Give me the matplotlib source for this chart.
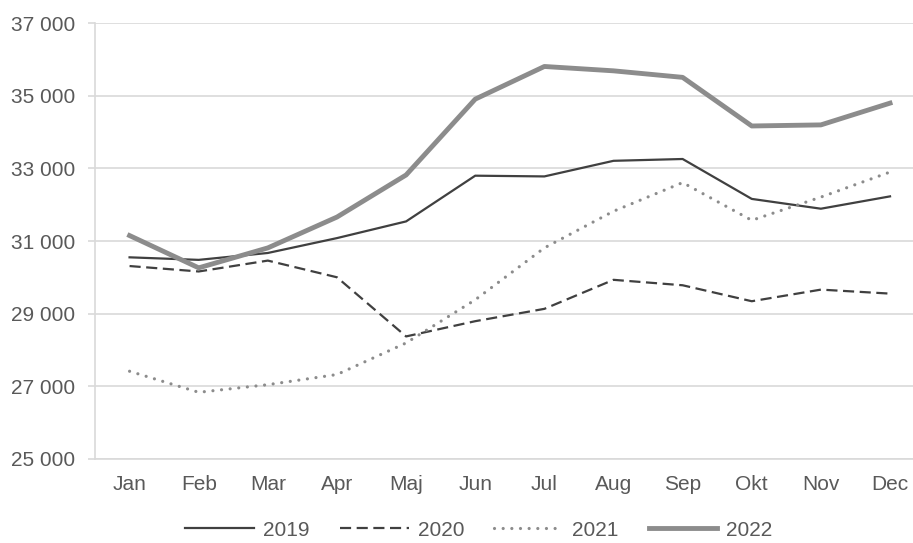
import matplotlib
matplotlib.use("Agg")
import matplotlib.pyplot as plt
from matplotlib.ticker import FuncFormatter

# dane
miesiace = ["Jan", "Feb", "Mar", "Apr", "Maj", "Jun", "Jul", "Aug", "Sep", "Okt", "Nov", "Dec"]
w2019 = [30550, 30480, 30670, 31080, 31540, 32800, 32780, 33210, 33260, 32160, 31890, 32230]
w2020 = [30310, 30160, 30460, 30000, 28370, 28790, 29130, 29930, 29780, 29340, 29660, 29550]
w2021 = [27410, 26830, 27040, 27320, 28190, 29380, 30810, 31820, 32610, 31570, 32210, 32900]
w2022 = [31150, 30260, 30810, 31660, 32820, 34910, 35810, 35690, 35510, 34170, 34200, 34800]

plt.rcParams["font.family"] = ["Liberation Sans", "DejaVu Sans"]
szary_tekst = "#595959"
siatka = "#d9d9d9"

fig = plt.figure(figsize=(9.13, 5.43), dpi=100)
ax = fig.add_axes([95 / 913, 84.3 / 543, 829.6 / 913, 435.4 / 543])

x = range(len(miesiace))
ax.plot(x, w2019, color="#404040", lw=1.6, label="2019")
ax.plot(x, w2020, color="#404040", lw=1.6, linestyle=(0, (5, 2.5)), label="2020")
ax.plot(x, w2021, color="#8c8c8c", lw=2.3, linestyle=(0, (0.01, 2.7)),
        dash_capstyle="round", label="2021")
ax.plot(x, w2022, color="#8c8c8c", lw=3.5, label="2022")

ax.set_xlim(-0.5, 11.5)
ax.set_ylim(25000, 37000)
ax.set_yticks(range(25000, 37001, 2000))
ax.yaxis.set_major_formatter(FuncFormatter(lambda v, p: f"{int(v):,}".replace(",", " ")))
ax.set_xticks(list(x))
ax.set_xticklabels(miesiace)

ax.grid(axis="y", color=siatka, lw=1.2)
ax.set_axisbelow(True)
for s in ["top", "right"]:
    ax.spines[s].set_visible(False)
for s in ["left", "bottom"]:
    ax.spines[s].set_color(siatka)
    ax.spines[s].set_linewidth(1.2)

ax.tick_params(axis="y", length=5, color=siatka, width=1.2, pad=9, labelsize=15, labelcolor=szary_tekst)
ax.tick_params(axis="x", length=0, pad=12, labelsize=15, labelcolor=szary_tekst)

leg = fig.legend(loc="center", bbox_to_anchor=(479 / 913, 13 / 543), ncol=4, frameon=False,
                 fontsize=15, handlelength=3.3, handletextpad=0.43, columnspacing=1.45)
for t in leg.get_texts():
    t.set_color(szary_tekst)

fig.savefig("out.png", dpi=100)
